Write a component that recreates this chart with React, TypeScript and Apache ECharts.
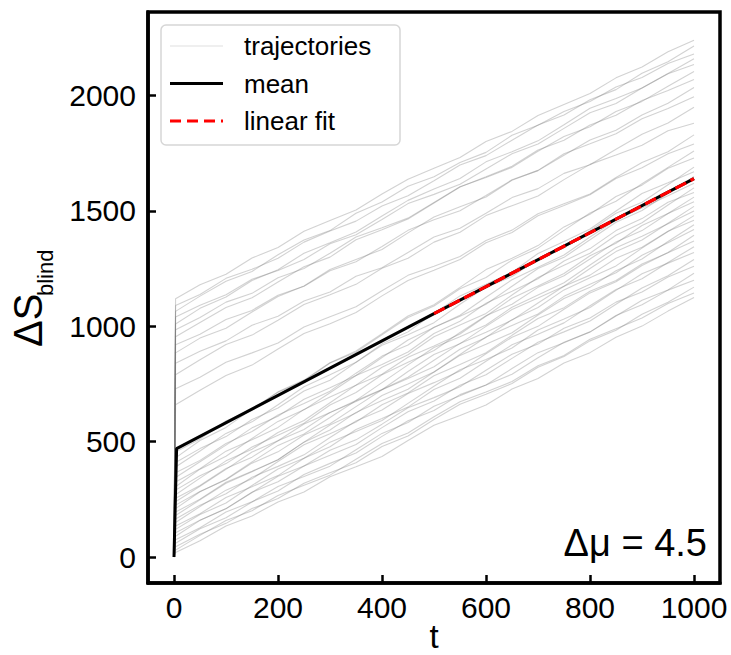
import React, { useEffect, useRef } from "react";
import * as echarts from "echarts";

// ---------- data ----------
const T_STEPS = [0, 3, 50, 100, 150, 200, 250, 300, 350, 400, 450, 500, 550, 600, 650, 700, 750, 800, 850, 900, 950, 1000];

const UPPER_TRAJECTORIES = [
  [0, 1120, 1180, 1226, 1296, 1342, 1412, 1459, 1504, 1574, 1638, 1685, 1732, 1801, 1845, 1914, 1962, 2009, 2077, 2124, 2190, 2240],
  [0, 1090, 1138, 1208, 1247, 1295, 1365, 1413, 1456, 1522, 1566, 1631, 1699, 1740, 1807, 1873, 1916, 1982, 2026, 2097, 2147, 2215],
  [0, 1065, 1131, 1195, 1238, 1310, 1374, 1415, 1490, 1539, 1607, 1648, 1710, 1754, 1828, 1872, 1931, 1975, 2037, 2079, 2139, 2180],
  [0, 1040, 1091, 1137, 1204, 1242, 1290, 1358, 1397, 1463, 1532, 1572, 1616, 1682, 1748, 1790, 1858, 1926, 1966, 2033, 2096, 2160],
  [0, 1010, 1078, 1127, 1199, 1245, 1317, 1362, 1409, 1478, 1546, 1595, 1641, 1713, 1757, 1804, 1874, 1945, 1988, 2033, 2095, 2135],
  [0, 985, 1038, 1105, 1143, 1211, 1251, 1317, 1387, 1427, 1469, 1537, 1605, 1645, 1689, 1759, 1823, 1865, 1931, 1975, 2041, 2105],
  [0, 955, 1017, 1082, 1124, 1192, 1258, 1300, 1375, 1419, 1465, 1535, 1604, 1648, 1694, 1764, 1807, 1873, 1915, 1979, 2022, 2070],
  [0, 920, 966, 1030, 1069, 1135, 1174, 1241, 1280, 1346, 1416, 1462, 1501, 1567, 1635, 1675, 1742, 1808, 1850, 1916, 1967, 2035],
  [0, 885, 949, 992, 1062, 1129, 1175, 1246, 1290, 1333, 1405, 1474, 1518, 1561, 1633, 1676, 1748, 1791, 1835, 1900, 1944, 1995],
  [0, 840, 892, 937, 1005, 1044, 1110, 1149, 1217, 1254, 1320, 1387, 1425, 1490, 1558, 1597, 1663, 1700, 1768, 1833, 1881, 1950],
  [0, 790, 855, 921, 962, 1026, 1095, 1137, 1182, 1252, 1295, 1365, 1408, 1480, 1523, 1565, 1636, 1702, 1743, 1785, 1848, 1880],
  [0, 730, 779, 844, 885, 928, 997, 1042, 1085, 1154, 1221, 1260, 1303, 1372, 1417, 1488, 1531, 1574, 1645, 1710, 1757, 1830],
  [0, 660, 723, 787, 832, 902, 969, 1011, 1060, 1132, 1199, 1243, 1290, 1362, 1407, 1479, 1524, 1570, 1641, 1687, 1748, 1790],
];

const LOWER_TRAJECTORIES = [
  [0, 455, 512, 590, 639, 714, 763, 841, 888, 963, 1038, 1088, 1163, 1212, 1287, 1339, 1416, 1491, 1542, 1618, 1689, 1760],
  [0, 430, 505, 562, 641, 716, 767, 842, 893, 968, 1045, 1094, 1169, 1246, 1295, 1350, 1431, 1486, 1563, 1612, 1685, 1730],
  [0, 410, 470, 522, 596, 646, 720, 766, 844, 918, 964, 1016, 1096, 1170, 1216, 1292, 1340, 1414, 1490, 1538, 1614, 1690],
  [0, 390, 460, 536, 586, 660, 738, 790, 844, 924, 976, 1056, 1132, 1182, 1234, 1316, 1368, 1422, 1500, 1576, 1622, 1670],
  [0, 365, 419, 492, 544, 616, 666, 719, 797, 871, 919, 996, 1044, 1096, 1174, 1251, 1299, 1375, 1451, 1502, 1576, 1650],
  [0, 345, 413, 485, 560, 610, 684, 734, 787, 865, 941, 995, 1048, 1126, 1202, 1256, 1309, 1387, 1461, 1513, 1566, 1620],
  [0, 325, 383, 459, 508, 562, 640, 694, 745, 823, 877, 955, 1006, 1056, 1136, 1212, 1265, 1317, 1395, 1449, 1526, 1600],
  [0, 305, 381, 437, 514, 588, 638, 712, 787, 835, 889, 969, 1022, 1100, 1152, 1206, 1283, 1337, 1415, 1467, 1538, 1580],
  [0, 290, 352, 405, 477, 528, 580, 659, 713, 790, 844, 895, 973, 1046, 1096, 1169, 1219, 1292, 1366, 1415, 1489, 1560],
  [0, 270, 342, 417, 467, 540, 592, 669, 745, 792, 866, 915, 967, 1044, 1122, 1175, 1229, 1306, 1360, 1437, 1489, 1540],
  [0, 255, 310, 384, 433, 504, 553, 627, 674, 725, 804, 878, 925, 1000, 1073, 1123, 1174, 1251, 1324, 1374, 1447, 1520],
  [0, 240, 307, 380, 455, 504, 577, 626, 679, 756, 833, 908, 955, 1006, 1083, 1136, 1189, 1266, 1341, 1390, 1445, 1500],
  [0, 225, 284, 335, 407, 456, 529, 578, 652, 725, 774, 825, 901, 952, 1029, 1082, 1158, 1211, 1262, 1339, 1411, 1480],
  [0, 210, 283, 337, 412, 484, 533, 605, 678, 726, 779, 853, 926, 974, 1027, 1101, 1174, 1222, 1295, 1343, 1412, 1460],
  [0, 195, 251, 324, 372, 422, 498, 551, 627, 679, 727, 802, 874, 922, 972, 1049, 1121, 1169, 1241, 1292, 1368, 1440],
  [0, 180, 248, 320, 370, 422, 498, 572, 624, 700, 750, 802, 878, 954, 1004, 1054, 1130, 1182, 1232, 1308, 1362, 1420],
  [0, 165, 225, 274, 346, 393, 443, 518, 590, 637, 709, 756, 806, 881, 953, 1000, 1074, 1145, 1193, 1264, 1320, 1395],
  [0, 150, 219, 290, 339, 414, 487, 534, 585, 660, 711, 786, 835, 886, 961, 1034, 1081, 1152, 1199, 1270, 1319, 1370],
  [0, 135, 188, 258, 305, 353, 428, 478, 553, 601, 650, 726, 775, 849, 920, 966, 1015, 1089, 1160, 1206, 1277, 1345],
  [0, 120, 184, 234, 310, 382, 428, 498, 544, 592, 666, 740, 812, 856, 906, 984, 1032, 1082, 1156, 1228, 1274, 1320],
  [0, 105, 160, 210, 281, 326, 395, 441, 488, 561, 630, 676, 745, 790, 861, 931, 976, 1023, 1096, 1166, 1219, 1290],
  [0, 90, 159, 209, 280, 350, 395, 463, 508, 576, 647, 691, 738, 810, 879, 923, 992, 1036, 1105, 1149, 1214, 1260],
  [0, 75, 127, 195, 240, 286, 358, 406, 451, 523, 591, 635, 704, 746, 792, 864, 931, 975, 1045, 1113, 1158, 1230],
  [0, 60, 123, 170, 239, 306, 349, 394, 465, 536, 583, 654, 699, 746, 817, 886, 929, 976, 1047, 1094, 1157, 1200],
  [0, 45, 99, 146, 210, 254, 320, 365, 409, 479, 525, 596, 662, 706, 752, 823, 869, 937, 983, 1052, 1104, 1170],
  [0, 30, 94, 158, 201, 267, 311, 355, 424, 492, 538, 608, 673, 715, 761, 829, 874, 944, 990, 1036, 1099, 1145],
  [0, 20, 71, 135, 178, 239, 282, 348, 391, 436, 505, 571, 614, 659, 728, 774, 841, 886, 953, 1001, 1066, 1125],
];

const MEAN_T = [0, 5, 500, 1000];
const MEAN_VALUES = [0, 470, 1055, 1640];
const FIT_T = [500, 1000];
const FIT_VALUES = [1055, 1640];

const X_TICKS = [0, 200, 400, 600, 800, 1000];
const Y_TICKS = [0, 500, 1000, 1500, 2000];
const LEGEND_LABELS = ["trajectories", "mean", "linear fit"];
const X_NAME = "t";
const Y_NAME_MAIN = "ΔS";
const Y_NAME_SUB = "blind";
const ANNOTATION = "Δμ = 4.5";

// ---------- styles ----------
const FONT = "'Liberation Sans', Arial, Helvetica, sans-serif";
const TRAJ_COLOR = "rgba(115,115,115,0.32)";

export default function App() {
  const ref = useRef<HTMLDivElement>(null);

  useEffect(() => {
    if (!ref.current) return;
    const chart = echarts.init(ref.current, undefined, { renderer: "svg" });

    const trajSeries = [...UPPER_TRAJECTORIES, ...LOWER_TRAJECTORIES].map((row) => ({
      type: "line",
      name: LEGEND_LABELS[0],
      data: T_STEPS.map((t, i) => [t, row[i]]),
      showSymbol: false,
      symbol: "none",
      silent: true,
      z: 2,
      lineStyle: { color: TRAJ_COLOR, width: 1.1 },
      emphasis: { disabled: true },
    }));

    const axisCommon = {
      type: "value",
      splitLine: { show: false },
      axisLine: { show: true, onZero: false, lineStyle: { color: "#000", width: 3.5 } },
    };

    const option: any = {
      animation: false,
      grid: {
        left: 148,
        top: 12,
        width: 572,
        height: 571,
        containLabel: false,
        outerBoundsMode: "none",
        show: true,
        borderColor: "#000",
        borderWidth: 3.5,
        backgroundColor: "transparent",
      },
      xAxis: {
        ...axisCommon,
        min: -50,
        max: 1050,
        axisTick: { show: true, inside: true, length: 8, lineStyle: { color: "#000", width: 2.5 }, customValues: X_TICKS },
        axisLabel: {
          customValues: X_TICKS,
          formatter: (v: number) => String(v),
          fontSize: 30,
          color: "#000",
          fontFamily: FONT,
          margin: 9,
        },
      },
      yAxis: {
        ...axisCommon,
        min: -112.5,
        max: 2362.5,
        axisTick: { show: true, inside: true, length: 8, lineStyle: { color: "#000", width: 2.5 }, customValues: Y_TICKS },
        axisLabel: {
          customValues: Y_TICKS,
          formatter: (v: number) => String(v),
          fontSize: 30,
          color: "#000",
          fontFamily: FONT,
          margin: 12,
        },
      },
      series: [
        ...trajSeries,
        {
          type: "line",
          name: LEGEND_LABELS[1],
          data: MEAN_T.map((t, i) => [t, MEAN_VALUES[i]]),
          showSymbol: false,
          symbol: "none",
          silent: true,
          z: 3,
          lineStyle: { color: "#000", width: 3 },
        },
        {
          type: "line",
          name: LEGEND_LABELS[2],
          data: FIT_T.map((t, i) => [t, FIT_VALUES[i]]),
          showSymbol: false,
          symbol: "none",
          silent: true,
          z: 4,
          lineStyle: { color: "#ff0000", width: 3.2, type: [12, 5] },
        },
      ],
      graphic: [
        // legend box
        {
          type: "rect",
          z: 100,
          shape: { x: 161, y: 25, width: 239, height: 120, r: 5 },
          style: { fill: "rgba(255,255,255,0.85)", stroke: "#d6d6d6", lineWidth: 1.5 },
        },
        {
          type: "line",
          z: 101,
          shape: { x1: 170, y1: 46, x2: 223, y2: 46 },
          style: { stroke: "rgba(128,128,128,0.25)", lineWidth: 1.2 },
        },
        {
          type: "line",
          z: 101,
          shape: { x1: 170, y1: 83.5, x2: 223, y2: 83.5 },
          style: { stroke: "#000", lineWidth: 3 },
        },
        {
          type: "line",
          z: 101,
          shape: { x1: 170, y1: 121, x2: 223, y2: 121 },
          style: { stroke: "#ff0000", lineWidth: 3.2, lineDash: [11, 6] },
        },
        ...LEGEND_LABELS.map((label, i) => ({
          type: "text",
          z: 101,
          x: 244,
          y: [46, 83.5, 121][i],
          style: {
            text: label,
            fontSize: 26,
            fontFamily: FONT,
            fill: "#000",
            align: "left",
            textAlign: "left",
            verticalAlign: "middle",
            textVerticalAlign: "middle",
          },
        })),
        // x-axis name
        {
          type: "text",
          z: 101,
          x: 434,
          y: 636,
          style: {
            text: X_NAME,
            fontSize: 33,
            fontFamily: FONT,
            fill: "#000",
            align: "center",
            textAlign: "center",
            verticalAlign: "middle",
            textVerticalAlign: "middle",
          },
        },
        // annotation
        {
          type: "text",
          z: 101,
          x: 707,
          y: 543,
          style: {
            text: ANNOTATION,
            fontSize: 38,
            fontFamily: FONT,
            fill: "#000",
            align: "right",
            textAlign: "right",
            verticalAlign: "middle",
            textVerticalAlign: "middle",
          },
        },
        // y-axis label (rotated, with subscript)
        {
          type: "text",
          z: 101,
          x: 28,
          y: 347,
          rotation: Math.PI / 2,
          style: {
            text: Y_NAME_MAIN,
            fontSize: 40,
            fontFamily: FONT,
            fill: "#000",
            align: "left",
            textAlign: "left",
            verticalAlign: "middle",
            textVerticalAlign: "middle",
          },
        },
        {
          type: "text",
          z: 101,
          x: 45.5,
          y: 296,
          rotation: Math.PI / 2,
          style: {
            text: Y_NAME_SUB,
            fontSize: 22,
            fontFamily: FONT,
            fill: "#000",
            align: "left",
            textAlign: "left",
            verticalAlign: "middle",
            textVerticalAlign: "middle",
          },
        },
      ],
    };

    chart.setOption(option);
    return () => chart.dispose();
  }, []);

  return (
    <div
      ref={ref}
      style={{ position: "fixed", left: 0, top: 0, width: 731, height: 655, background: "#fff" }}
    />
  );
}
